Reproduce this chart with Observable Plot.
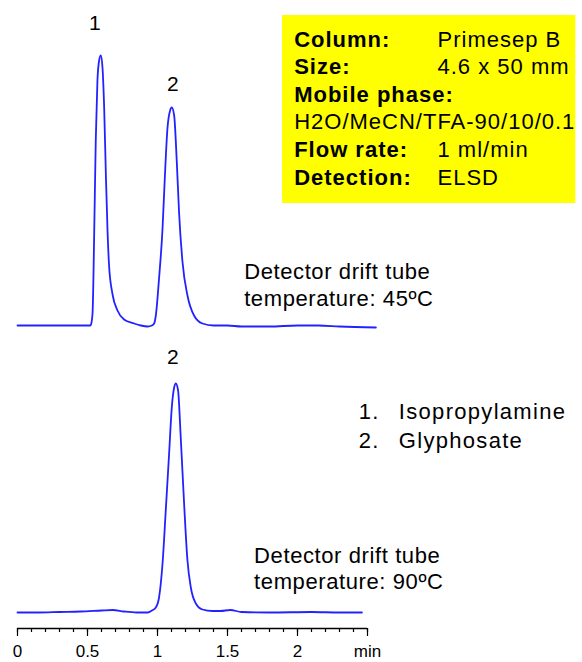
<!DOCTYPE html>
<html>
<head>
<meta charset="utf-8">
<script src="https://cdn.jsdelivr.net/npm/d3@7"></script>
<script src="https://cdn.jsdelivr.net/npm/@observablehq/plot@0.6"></script>
<style>
  html, body { margin: 0; padding: 0; background: #fff; }
  #chart svg text { font-family: Arial, "Liberation Sans", sans-serif; }
  .box-text, [aria-label="box-text"] text { letter-spacing: 1px; }
  .legend-text, [aria-label="legend-text"] text { letter-spacing: 1.3px; }
  .drift-text, [aria-label="drift-text"] text { letter-spacing: 0.6px; }
</style>
</head>
<body>
<div id="chart"></div>
<script>
// ---- data (time in min, detector signal in arbitrary units) ----
const panels = ["45", "90"];           // detector drift tube temperature, ºC
const detectorTemps = [45, 90];

const trace45Time = [0.00, 0.25, 0.45, 0.52, 0.525, 0.536, 0.547, 0.559, 0.571, 0.583, 0.595, 0.607, 0.619, 0.631, 0.643, 0.654, 0.679, 0.714, 0.761, 0.833, 0.881, 0.93, 0.96, 0.976, 0.988, 1.011, 1.036, 1.052, 1.071, 1.090, 1.102, 1.119, 1.138, 1.154, 1.179, 1.214, 1.261, 1.321, 1.40, 1.50, 1.60, 1.80, 2.00, 2.15, 2.30, 2.56];
const trace45Signal = [0, 0, 0, 0, 1, 12, 85, 185, 245, 265, 270, 258, 218, 152, 95, 60, 31, 15, 6, 2, 0, -1, 0, 2, 10, 47, 97, 147, 197, 215, 218, 210, 163, 113, 63, 30, 10, 2, 0, 0, -1, -1, 0, 0, -1, -2];

const trace90Time = [0.00, 0.15, 0.30, 0.45, 0.60, 0.68, 0.76, 0.85, 0.93, 0.96, 0.988, 1.011, 1.036, 1.059, 1.083, 1.102, 1.119, 1.131, 1.147, 1.166, 1.19, 1.214, 1.238, 1.274, 1.321, 1.393, 1.45, 1.52, 1.60, 1.80, 2.10, 2.30, 2.46];
const trace90Signal = [0, 0, 0.5, 1, 2, 2.5, 1, 0, 0, 2, 5, 15, 49, 102, 159, 205, 225, 229, 222, 175, 109, 52, 25, 9, 3, 1.5, 1.5, 2.5, 0.5, 0, 0.5, 0, 0];

const compoundNumbers = ["1.", "2."];
const compounds = ["Isopropylamine", "Glyphosate"];

const infoLabels = ["Column:", "Size:", "Mobile phase:", "", "Flow rate:", "Detection:"];
const infoValues = ["Primesep B", "4.6 x 50 mm", "", "", "1 ml/min", "ELSD"];
const mobilePhase = "H2O/MeCN/TFA-90/10/0.1";

const majorTicks = [0, 0.5, 1, 1.5, 2, 2.5];
const majorTickLabels = ["0", "0.5", "1", "1.5", "2", "min"];
const minorTicks = [0, 0.1, 0.2, 0.3, 0.4, 0.5, 0.6, 0.7, 0.8, 0.9, 1, 1.1, 1.2, 1.3, 1.4, 1.5, 1.6, 1.7, 1.8, 1.9, 2, 2.1, 2.2, 2.3, 2.4, 2.5];

// ---- tables built from the arrays ----
const traces = [
  ...trace45Time.map((t, i) => ({panel: "45", t, v: trace45Signal[i]})),
  ...trace90Time.map((t, i) => ({panel: "90", t, v: trace90Signal[i]}))
];
const tickLabelOf = new Map(majorTicks.map((d, i) => [d, majorTickLabels[i]]));
const yDomain = [-16, 271];
const font = 'Arial, "Liberation Sans", sans-serif';

const topPanel = () => "45";
const bottomPanel = () => "90";

const chart = Plot.plot({
  width: 582,
  height: 662,
  marginLeft: 17,
  marginRight: 5,
  marginTop: 54,
  marginBottom: 34,
  style: {fontFamily: font, background: "#fff", color: "#000"},
  x: {domain: [0, 4], axis: null},
  y: {domain: yDomain, axis: null},
  fy: {domain: panels, padding: 0, axis: null},
  marks: [
    // yellow info box (top panel)
    Plot.rect([0], {fy: topPanel, x1: 1.893, x2: 3.988, y1: 122, y2: 310, fill: "#ffff00"}),
    Plot.text(infoLabels, {fy: topPanel, x: 1.976, y: (d, i) => 286 - 27.6 * i, text: d => d,
      textAnchor: "start", lineAnchor: "middle", fontSize: 22, fontWeight: "bold", fill: "#000",
      className: "box-text", ariaLabel: "box-text"}),
    Plot.text(infoValues, {fy: topPanel, x: 3.0, y: (d, i) => 286 - 27.6 * i, text: d => d,
      textAnchor: "start", lineAnchor: "middle", fontSize: 22, fill: "#000",
      className: "box-text", ariaLabel: "box-text"}),
    Plot.text([mobilePhase], {fy: topPanel, x: 1.976, y: 286 - 27.6 * 3, text: d => d,
      textAnchor: "start", lineAnchor: "middle", fontSize: 22, fill: "#000",
      className: "box-text", ariaLabel: "box-text"}),

    // chromatograms
    Plot.line(traces, {x: "t", y: "v", fy: "panel", z: "panel", curve: "monotone-x",
      stroke: "#2222ff", strokeWidth: 1.8}),

    // peak numbers
    Plot.text(["1"], {fy: topPanel, x: 0.552, y: 302.5, text: d => d, fontSize: 21, lineAnchor: "middle", fill: "#000"}),
    Plot.text(["2"], {fy: topPanel, x: 1.109, y: 241.3, text: d => d, fontSize: 21, lineAnchor: "middle", fill: "#000"}),
    Plot.text(["2"], {fy: bottomPanel, x: 1.109, y: 255, text: d => d, fontSize: 21, lineAnchor: "middle", fill: "#000"}),

    // detector temperature notes
    Plot.text([detectorTemps[0]], {fy: topPanel, x: 1.619, y: 65, text: d => `Detector drift tube\ntemperature: ${d}ºC`,
      textAnchor: "start", lineAnchor: "top", lineHeight: 1.21, fontSize: 22, fill: "#000",
      className: "drift-text", ariaLabel: "drift-text"}),
    Plot.text([detectorTemps[1]], {fy: bottomPanel, x: 1.69, y: 68.7, text: d => `Detector drift tube\ntemperature: ${d}ºC`,
      textAnchor: "start", lineAnchor: "top", lineHeight: 1.21, fontSize: 22, fill: "#000",
      className: "drift-text", ariaLabel: "drift-text"}),

    // compound legend
    Plot.text(compoundNumbers, {fy: bottomPanel, x: 2.438, y: (d, i) => 208.7 - 28.3 * i, text: d => d,
      textAnchor: "start", lineAnchor: "top", fontSize: 22, fill: "#000",
      className: "legend-text", ariaLabel: "legend-text"}),
    Plot.text(compounds, {fy: bottomPanel, x: 2.724, y: (d, i) => 208.7 - 28.3 * i, text: d => d,
      textAnchor: "start", lineAnchor: "top", fontSize: 22, fill: "#000",
      className: "legend-text", ariaLabel: "legend-text"}),

    // time axis
    Plot.ruleY([0], {fy: bottomPanel, y: () => yDomain[0], x1: majorTicks[0], x2: majorTicks[majorTicks.length - 1],
      stroke: "#000", strokeWidth: 1.3}),
    Plot.axisX(minorTicks, {tickSize: 4, tickFormat: () => "", label: null, stroke: "#000", strokeWidth: 1.2}),
    Plot.axisX(majorTicks, {tickSize: 8, tickPadding: 8, tickFormat: d => tickLabelOf.get(d), label: null,
      fontSize: 17, fill: "#000", stroke: "#000", strokeWidth: 1.2})
  ]
});

document.getElementById("chart").appendChild(chart);
</script>
</body>
</html>
